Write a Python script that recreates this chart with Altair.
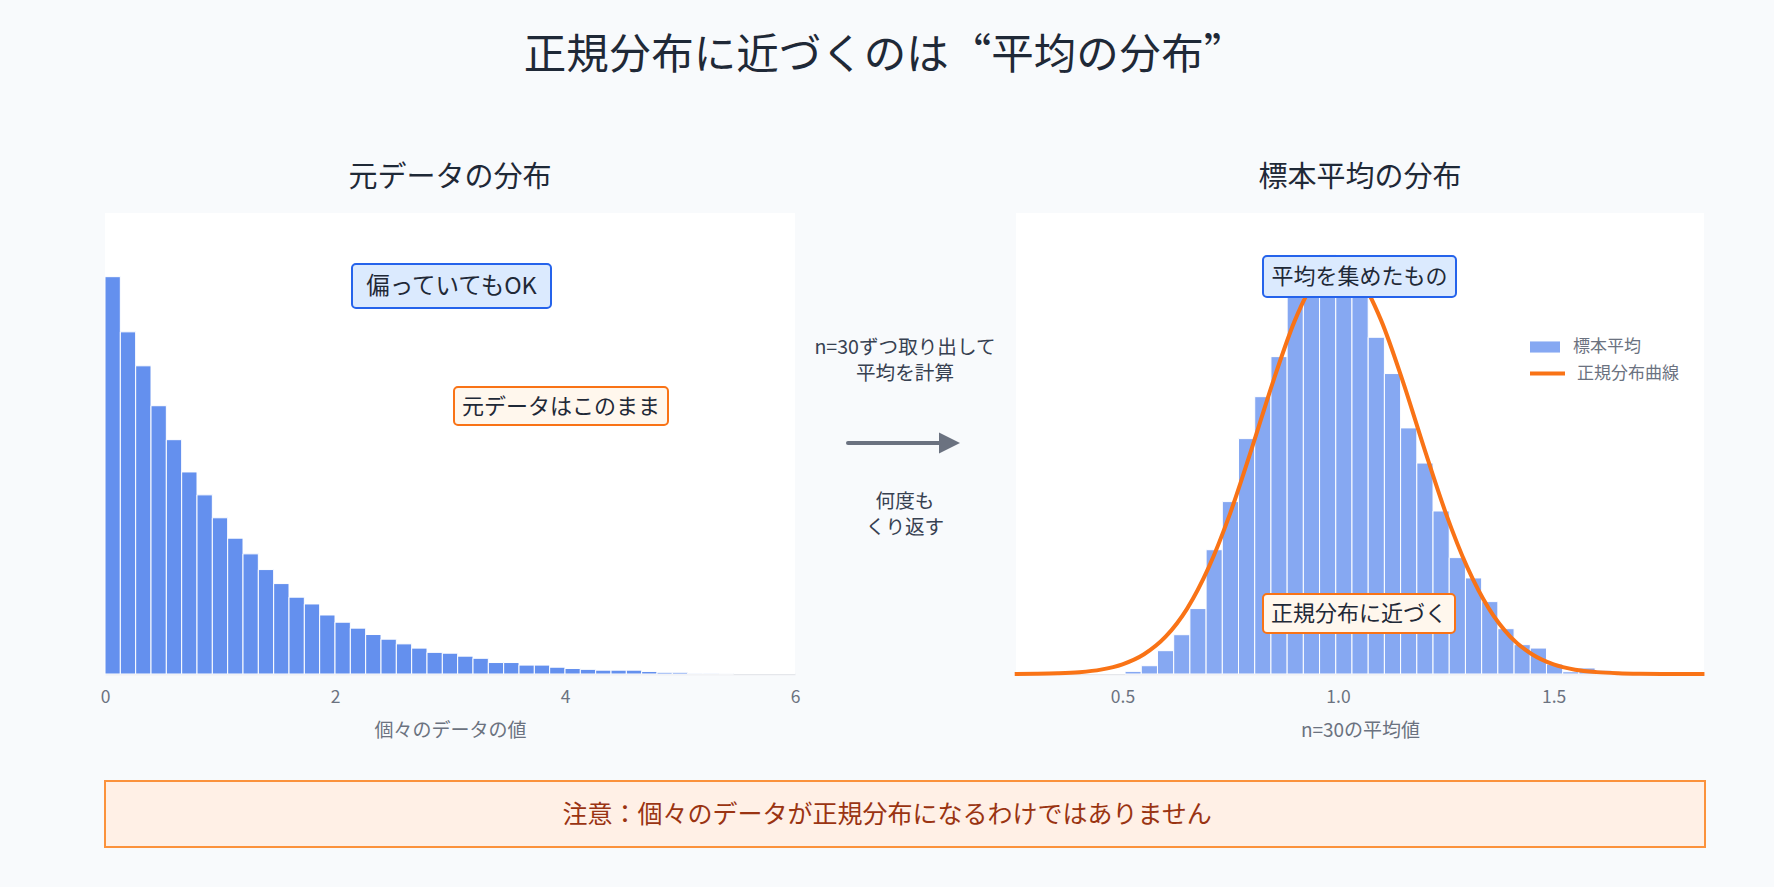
import altair as alt
import pandas as pd

# ---------------- data ----------------
# left: histogram of the raw (skewed) data, density per bin
RAW_BIN_START = 0.0
RAW_BIN_WIDTH = 6 / 45
raw_density = [0.936, 0.806, 0.726, 0.632, 0.552, 0.476, 0.422, 0.368, 0.320, 0.283,
               0.246, 0.213, 0.181, 0.165, 0.139, 0.122, 0.108, 0.093, 0.082, 0.071,
               0.061, 0.051, 0.049, 0.042, 0.037, 0.027, 0.027, 0.021, 0.021, 0.016,
               0.013, 0.011, 0.009, 0.009, 0.009, 0.006, 0.004, 0.004, 0.0016, 0.0016,
               0.0008]

# right: histogram of sample means (n=30), density per bin
MEAN_BIN_START = 0.506
MEAN_BIN_WIDTH = 0.0376
mean_density = [0.014, 0.044, 0.124, 0.209, 0.348, 0.661, 0.917, 1.252, 1.475, 1.688,
                2.040, 2.160, 2.230, 2.180, 2.070, 1.791, 1.598, 1.309, 1.122, 0.867,
                0.619, 0.511, 0.385, 0.241, 0.156, 0.138, 0.053, 0.012, 0.032, 0.020]

# right: normal curve
curve_x = [0.25, 0.30, 0.35, 0.40, 0.45, 0.50, 0.55, 0.60, 0.65, 0.70, 0.75, 0.80,
           0.85, 0.90, 0.95, 1.00, 1.05, 1.10, 1.15, 1.20, 1.25, 1.30, 1.35, 1.40,
           1.45, 1.50, 1.55, 1.60, 1.65, 1.70, 1.75, 1.80, 1.85]
curve_y = [0.0005, 0.0014, 0.0039, 0.0099, 0.0234, 0.0514, 0.1048, 0.1982, 0.348, 0.567,
           0.856, 1.200, 1.559, 1.881, 2.105, 2.185, 2.105, 1.881, 1.559, 1.200, 0.856,
           0.567, 0.348, 0.198, 0.105, 0.051, 0.023, 0.010, 0.004, 0.0014, 0.0005,
           0.0001, 0.0]

left_ticks = [0, 2, 4, 6]
right_ticks = [0.5, 1.0, 1.5]
series_names = ["標本平均", "正規分布曲線"]

main_title = ["正規分布に近づくのは“平均の分布”"]
panel_titles = ["元データの分布", "標本平均の分布"]
axis_titles = ["個々のデータの値", "n=30の平均値"]
middle_top = ["n=30ずつ取り出して\n平均を計算"]
middle_bottom = ["何度も\nくり返す"]
annotations = ["偏っていてもOK", "元データはこのまま", "平均を集めたもの", "正規分布に近づく"]
note_text = ["注意：個々のデータが正規分布になるわけではありません"]

# ---------------- tables ----------------
raw_df = pd.DataFrame({
    "x": [RAW_BIN_START + i * RAW_BIN_WIDTH for i in range(len(raw_density))],
    "x_end": [RAW_BIN_START + (i + 1) * RAW_BIN_WIDTH for i in range(len(raw_density))],
    "density": raw_density,
})
mean_df = pd.DataFrame({
    "x": [MEAN_BIN_START + i * MEAN_BIN_WIDTH for i in range(len(mean_density))],
    "x_end": [MEAN_BIN_START + (i + 1) * MEAN_BIN_WIDTH for i in range(len(mean_density))],
    "density": mean_density,
    "series": series_names[0],
})
curve_df = pd.DataFrame({"x": curve_x, "density": curve_y, "series": series_names[1]})
one = pd.DataFrame({"k": [0]})

# ---------------- layout / style ----------------
W, H = 1774, 887
FONT = "Noto Sans CJK JP"
TITLE_FONT = "Noto Sans CJK SC"
BG = "#F8FAFC"
LX = [105, 795]
RX = [1016, 1704]
PT, PB = 213, 674
PY = [PB, PT]
DARK = "#1F2937"
GRAY = "#6B7280"


def xaxis(title, values, fmt):
    return alt.Axis(title=title, values=values, format=fmt, orient="bottom",
                    offset=PB - H, grid=False, ticks=False, tickSize=0,
                    domainColor="#E5E7EB", domainWidth=1.5, labelFlush=False,
                    labelColor=GRAY, labelFontSize=17.5, labelPadding=14, labelFont=FONT,
                    titleColor=GRAY, titleFontSize=19, titleFontWeight="normal",
                    titlePadding=16, titleFont=FONT)


def text_layer(df, cx, cy, size, color, line_height=None, font=FONT):
    kw = dict(font=font, fontSize=size, color=color, align="center", baseline="middle")
    if line_height:
        kw.update(lineBreak="\n", lineHeight=line_height)
    return alt.Chart(df).mark_text(**kw).encode(
        x=alt.value(cx), y=alt.value(cy), text="label:N")


def rect_layer(x0, x1, y0, y1, fill, stroke=None, sw=0, radius=0):
    kw = dict(fill=fill, cornerRadius=radius)
    if stroke:
        kw.update(stroke=stroke, strokeWidth=sw)
    return alt.Chart(one).mark_rect(**kw).encode(
        x=alt.value(x0), x2=alt.value(x1), y=alt.value(y0), y2=alt.value(y1))


# plot backgrounds
bg_left = rect_layer(LX[0], LX[1], PT, PB, "white")
bg_right = rect_layer(RX[0], RX[1], PT, PB, "white")

# left histogram
left = alt.Chart(raw_df).mark_rect(color="#6490EE", stroke="white", strokeWidth=1).encode(
    x=alt.X("x:Q", scale=alt.Scale(domain=[0, 6], range=LX, nice=False, zero=False),
            axis=xaxis(axis_titles[0], left_ticks, "d")),
    x2="x_end:Q",
    y=alt.Y("density:Q", scale=alt.Scale(domain=[0, 1.086], range=PY, nice=False), axis=None),
    y2=alt.datum(0),
)

# right histogram + curve
rx_scale = alt.Scale(domain=[0.253, 1.849], range=RX, nice=False, zero=False)
ry_scale = alt.Scale(domain=[0, 2.452], range=PY, nice=False)
right_bars = alt.Chart(mean_df).mark_rect(stroke="white", strokeWidth=1).encode(
    x=alt.X("x:Q", scale=rx_scale, axis=xaxis(axis_titles[1], right_ticks, ".1f")),
    x2="x_end:Q",
    y=alt.Y("density:Q", scale=ry_scale, axis=None),
    y2=alt.datum(0),
    fill=alt.Fill("series:N",
                  scale=alt.Scale(domain=[series_names[0]], range=["#86A8F2"]),
                  legend=alt.Legend(title=None, orient="none", legendX=1530, legendY=332,
                                    symbolType="M-1,-0.37H1V0.37H-1Z", symbolSize=900,
                                    symbolStrokeWidth=0, labelFontSize=17, labelColor=GRAY,
                                    labelFont=FONT, labelOffset=13, padding=0)),
)
curve = alt.Chart(curve_df).mark_line(strokeWidth=4, interpolate="monotone").encode(
    x=alt.X("x:Q", scale=rx_scale, axis=xaxis(axis_titles[1], right_ticks, ".1f")),
    y=alt.Y("density:Q", scale=ry_scale, axis=None),
    stroke=alt.Stroke("series:N",
                      scale=alt.Scale(domain=[series_names[1]], range=["#F97316"]),
                      legend=alt.Legend(title=None, orient="none", legendX=1528, legendY=354,
                                        symbolType="stroke", symbolSize=1225,
                                        symbolStrokeWidth=4, labelFontSize=17,
                                        labelColor=GRAY, labelFont=FONT, labelOffset=10,
                                        padding=0)),
)
right = alt.layer(right_bars, curve)

# annotation boxes
ann = [
    rect_layer(352, 551, 264, 308, "#DBEAFE", "#2563EB", 2, 4),
    text_layer(pd.DataFrame({"label": [annotations[0]]}), 451.5, 287, 23.5, DARK),
    rect_layer(454, 668, 387, 425, "#FFF7ED", "#F97316", 2, 4),
    text_layer(pd.DataFrame({"label": [annotations[1]]}), 561, 406.5, 22, DARK),
    rect_layer(1263, 1456, 256, 297, "#DBEAFE", "#2563EB", 2, 4),
    text_layer(pd.DataFrame({"label": [annotations[2]]}), 1359.5, 277, 22, DARK),
    rect_layer(1263, 1455, 594, 633, "#FFF7ED", "#F97316", 2, 4),
    text_layer(pd.DataFrame({"label": [annotations[3]]}), 1359, 614, 22, DARK),
]

# middle arrow and texts
arrow_line = alt.Chart(one).mark_rule(color="#6B7280", strokeWidth=4, strokeCap="round").encode(
    x=alt.value(848), x2=alt.value(942), y=alt.value(443))
arrow_head = alt.Chart(one).mark_point(shape="M-1,-1L1,0L-1,1Z", filled=True, size=441,
                                       color="#6B7280", opacity=1).encode(
    x=alt.value(949.5), y=alt.value(443))
mid_top = text_layer(pd.DataFrame({"label": middle_top}), 905, 348, 19.6, "#374151", 25.5)
mid_bot = text_layer(pd.DataFrame({"label": middle_bottom}), 905, 502, 19.6, "#374151", 25.5)

# note box
note_box = rect_layer(105, 1705, 781, 847, "#FFF0E6", "#FB923C", 2, 0)
note = text_layer(pd.DataFrame({"label": note_text}), 887, 815, 25, "#9A3412")

# titles
title = text_layer(pd.DataFrame({"label": main_title}), 885, 56, 42.5, DARK, font=TITLE_FONT)
sub_l = text_layer(pd.DataFrame({"label": [panel_titles[0]]}), 450, 178, 29, DARK)
sub_r = text_layer(pd.DataFrame({"label": [panel_titles[1]]}), 1360, 178, 29, DARK)

chart = alt.layer(
    bg_left, bg_right, left, right, *ann, arrow_line, arrow_head, mid_top, mid_bot,
    note_box, note, title, sub_l, sub_r,
).resolve_scale(x="independent", y="independent").properties(
    width=W, height=H, padding=0, background=BG,
    autosize=alt.AutoSizeParams(type="none"),
).configure(font=FONT).configure_view(stroke=None, fill=BG)

chart.save("out.html", embed_options={"renderer": "svg", "actions": False})
